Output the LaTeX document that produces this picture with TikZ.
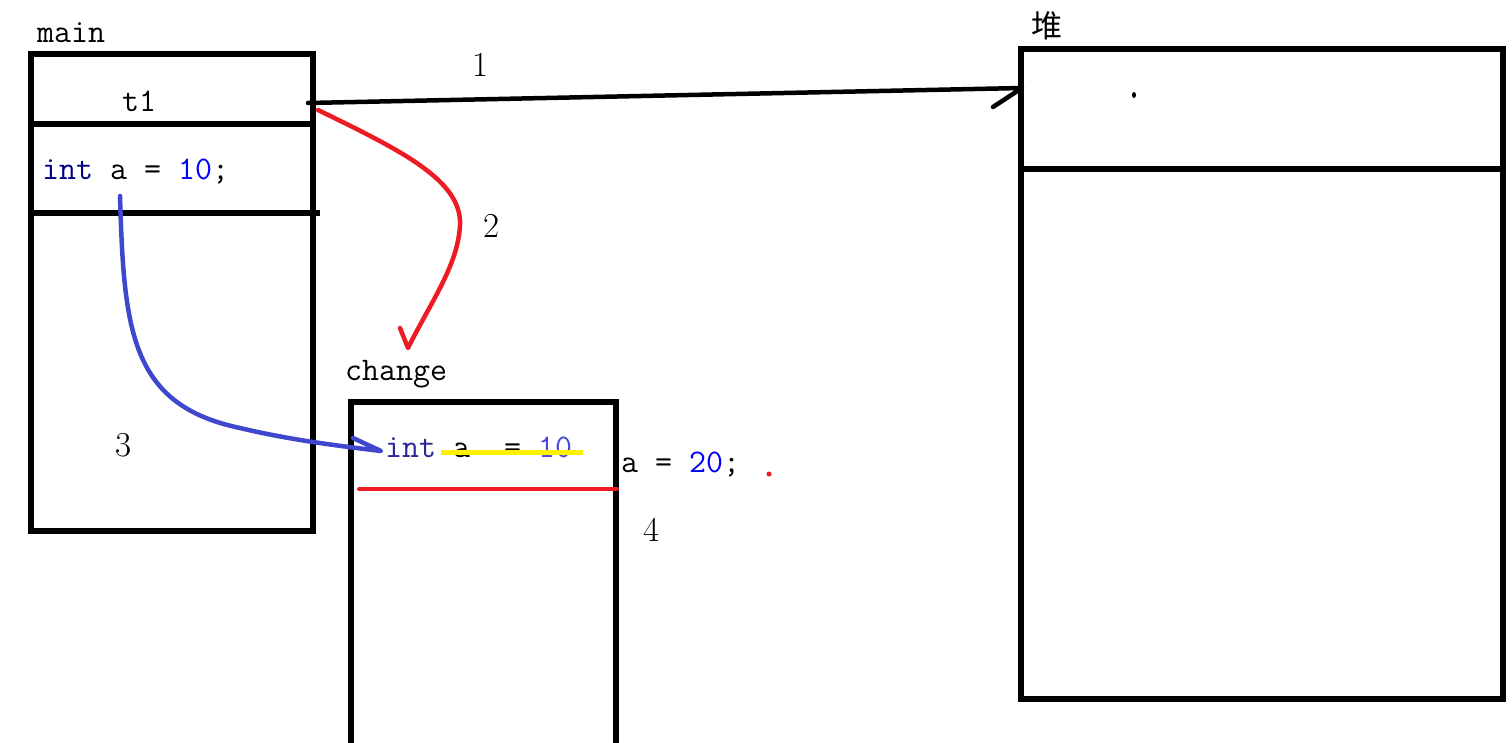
\documentclass[tikz,border=0pt]{standalone}
\usepackage{fontspec}
\newfontfamily\cjk{Noto Sans CJK SC}
\definecolor{pred}{RGB}{237,28,36}
\definecolor{pblue}{RGB}{63,72,204}
\definecolor{pyellow}{RGB}{255,242,0}
\definecolor{navyc}{RGB}{0,0,128}
\definecolor{numc}{RGB}{0,0,255}
\definecolor{intc}{RGB}{40,40,150}
\definecolor{tenc}{RGB}{70,70,220}
\begin{document}
\begin{tikzpicture}[x=1pt,y=-1pt,
  frame/.style={draw=black, line width=5.5pt, anchor=north west, inner sep=0pt, outer sep=0pt},
  code/.style={font=\ttfamily\fontsize{33}{38}\selectfont, anchor=base west, inner sep=0pt},
  num/.style={font=\rmfamily\fontsize{35}{40}\selectfont, anchor=base west, inner sep=0pt},
  divider/.style={line width=5.5pt},
  link/.style={line width=4.5pt, line cap=round, line join=round}]
\useasboundingbox (0,0) rectangle (1512,743);
\fill[white] (0,0) rectangle (1512,743);
% main frame
\node[frame, minimum width=282pt, minimum height=477pt] (mainbox) at (31,54) {};
\node[code] (mainlbl) at (37,43) {main};
\draw[divider] (31,124) -- (313,124);
\draw[divider] (31,213) -- (320,213);
\node[code] (t1) at (122,112) {t1};
\node[code] (inta) at (42,180) {\textcolor{navyc}{int} a = \textcolor{numc}{10};};
% heap
\node[frame, minimum width=482pt, minimum height=650pt] (heap) at (1021,49) {};
\draw[divider] (1021,169) -- (1503,169);
\node[font=\cjk\fontsize{31}{35}\selectfont, inner sep=0pt] (heaplbl) at (1047,26) {堆};
\fill (1134,95) ellipse (2pt and 3pt);
% change frame
\node[frame, minimum width=265pt, minimum height=360pt] (chg) at (351,402) {};
\node[code] (chglbl) at (345,380) {change};
\node[code] (chgint) at (385,457) {\textcolor{intc}{int} a\ \ = \textcolor{tenc}{10}};
\draw[pyellow, line width=5pt] (441,452) -- (583,452);
\draw[pred, line width=4pt, line cap=round] (359,489) -- (617,489);
\node[code] (a20) at (621,472) {a = \textcolor{numc}{20};};
\fill[pred] (769,474) circle (2.5pt);
% step numbers
\node[num] (n1) at (472,77) {1};
\node[num] (n2) at (483,238) {2};
\node[num] (n3) at (115,456) {3};
\node[num] (n4) at (643,541) {4};
% connectors
\coordinate (t1out) at (308,103);
\coordinate (heapin) at (1022,88);
\draw[link] (t1out) -- (heapin) -- ++(-29,19);
\coordinate (redstart) at (318,110);
\coordinate (chgtop) at (408,348);
\draw[link, pred] (redstart) .. controls (400,150) and (462,180) .. (460,225) .. controls (458,265) and (432,300) .. (chgtop) -- ++(-8,-20);
\coordinate (vara) at (120,196);
\coordinate (chgvar) at (381,451);
\draw[link, pblue] (vara) .. controls (124,330) and (130,405) .. (240,428) .. controls (290,440) and (340,446) .. (chgvar) -- ++(-28,-13);
\end{tikzpicture}
\end{document}
